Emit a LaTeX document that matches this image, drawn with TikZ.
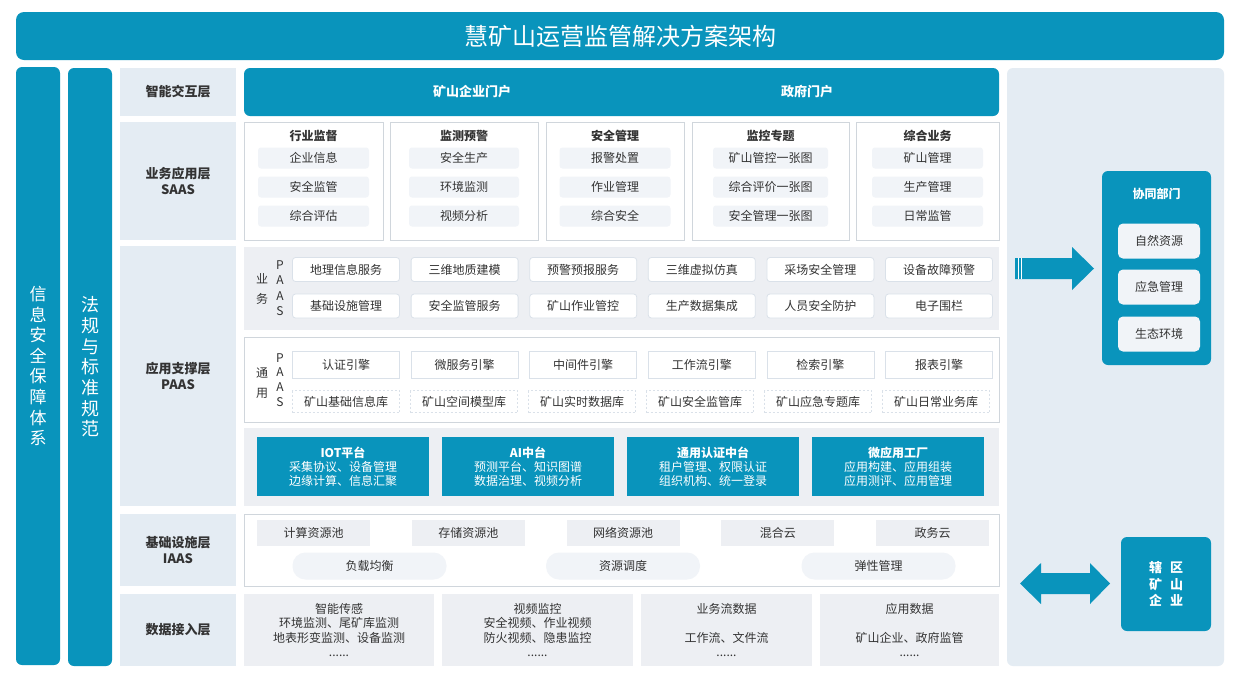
\documentclass[tikz,border=0pt]{standalone}
\usepackage{fontspec}
\setmainfont{Noto Sans CJK SC}
\usetikzlibrary{positioning}

\definecolor{mainblue}{RGB}{9,148,188}
\definecolor{panel}{RGB}{228,236,243}
\definecolor{grayfill}{RGB}{237,239,243}
\definecolor{pillfill}{RGB}{241,244,248}
\definecolor{cardline}{RGB}{208,214,220}
\definecolor{svcline}{RGB}{218,225,233}
\definecolor{txt}{RGB}{51,51,51}

\tikzset{
  sized/.style 2 args={minimum width=#1, minimum height=#2, inner sep=0pt},
  bar/.style={fill=mainblue, text=white, rounded corners=6pt},
  lyr/.style={fill=panel, text=txt, align=center, font=\fontsize{13}{16}\selectfont\bfseries},
  card/.style={fill=white, draw=cardline, line width=0.8pt},
  cardtitle/.style={text=txt, font=\fontsize{12}{14}\selectfont\bfseries},
  pill/.style={fill=pillfill, text=txt, rounded corners=3pt, font=\fontsize{12}{14}\selectfont},
  svc/.style={fill=white, draw=svcline, line width=0.8pt, rounded corners=3pt, text=txt,
    minimum width=107pt, minimum height=24pt, inner sep=0pt, font=\fontsize{12}{14}\selectfont},
  engine/.style={svc, rounded corners=0pt, minimum height=27pt},
  dbase/.style={svc, rounded corners=0pt, dashed, dash pattern=on 2pt off 2pt, minimum height=22pt},
  vlabel/.style={text=txt, align=center, inner sep=0pt, font=\fontsize{12}{#1}\selectfont},
  platbox/.style={fill=mainblue, text=white, align=center, minimum width=172pt, minimum height=59pt,
    inner sep=0pt, font=\fontsize{12}{14}\selectfont},
  pool/.style={fill=grayfill, text=txt, minimum width=113pt, minimum height=26pt, inner sep=0pt,
    font=\fontsize{12}{14}\selectfont},
  oval/.style={fill=pillfill, text=txt, rounded corners=13pt, minimum width=154pt, minimum height=27pt,
    inner sep=0pt, font=\fontsize{12}{14}\selectfont},
  datatext/.style={text=txt, align=center, inner sep=0pt, font=\fontsize{12}{14.3}\selectfont},
  dept/.style={fill=pillfill, text=txt, rounded corners=5pt, minimum width=82pt, minimum height=35pt,
    inner sep=0pt, font=\fontsize{12}{14}\selectfont}
}

\begin{document}
\begin{tikzpicture}[x=1pt, y=-1pt]
  \useasboundingbox[fill=white] (0,0) rectangle (1240,686);

  % title and side columns
  \node[bar, sized={1208pt}{48pt}, rounded corners=8pt, font=\fontsize{24}{28}\selectfont] (title) at (620,36) {慧矿山运营监管解决方案架构};
  \node[bar, sized={44pt}{598pt}, align=center, font=\fontsize{17}{20.6}\selectfont] (security) at (38,366) {信\\息\\安\\全\\保\\障\\体\\系};
  \node[bar, sized={44pt}{598pt}, align=center, font=\fontsize{18}{20.7}\selectfont] (law) at (90,367) {法\\规\\与\\标\\准\\规\\范};

  % layer labels
  \node[lyr, sized={116pt}{48pt}] (l1) at (178,92) {智能交互层};
  \node[lyr, sized={116pt}{118pt}] (l2) at (178,181) {业务应用层\\SAAS};
  \node[lyr, sized={116pt}{260pt}] (l3) at (178,376) {应用支撑层\\PAAS};
  \node[lyr, sized={116pt}{72pt}] (l4) at (178,550) {基础设施层\\IAAS};
  \node[lyr, sized={116pt}{72pt}] (l5) at (178,630) {数据接入层};

  % right panel
  \node[fill=panel, rounded corners=6pt, sized={217pt}{598pt}] (side) at (1115.5,367) {};

  % interaction layer
  \node[bar, sized={755pt}{48pt}] (portal) at (621.5,92) {};
  \node[text=white, font=\fontsize{13}{16}\selectfont\bfseries] (p1) at (472,92) {矿山企业门户};
  \node[text=white, font=\fontsize{13}{16}\selectfont\bfseries] (p2) at (807,92) {政府门户};

  % SAAS
  \foreach \x/\w/\iw/\n/\t/\a/\b/\c in {
      313.5/139/111/sa1/行业监督/企业信息/安全监管/综合评估,
      464/148/110/sa2/监测预警/安全生产/环境监测/视频分析,
      615/138/111/sa3/安全管理/报警处置/作业管理/综合安全,
      770.5/157/115/sa4/监控专题/矿山管控一张图/综合评价一张图/安全管理一张图,
      927.5/143/111/sa5/综合业务/矿山管理/生产管理/日常监管} {
    \node[card, sized={\w pt}{118pt}] (\n) at (\x,181) {};
    \node[cardtitle] (\n-t) at (\x,136) {\t};
    \node[pill, sized={\iw pt}{21pt}] (\n-a) at (\x,158) {\a};
    \node[pill, sized={\iw pt}{21pt}] (\n-b) at (\x,187) {\b};
    \node[pill, sized={\iw pt}{21pt}] (\n-c) at (\x,216) {\c};
  }

  % business PAAS
  \node[fill=grayfill, sized={755pt}{83pt}] (bizbg) at (621.5,288.5) {};
  \node[vlabel=20] (bizlbl) at (262,289) {业\\务};
  \node[vlabel=15.5] (bizpaas) at (280,288) {P\\A\\A\\S};
  \foreach \t [count=\i from 0] in {地理信息服务,三维地质建模,预警预报服务,三维虚拟仿真,采场安全管理,设备故障预警}
    \node[svc] (biz1-\i) at ({346+118.6*\i},269.5) {\t};
  \foreach \t [count=\i from 0] in {基础设施管理,安全监管服务,矿山作业管控,生产数据集成,人员安全防护,电子围栏}
    \node[svc] (biz2-\i) at ({346+118.6*\i},306) {\t};

  % common PAAS
  \node[card, sized={755pt}{85pt}] (combg) at (621.5,379.5) {};
  \node[vlabel=20] (comlbl) at (262,383) {通\\用};
  \node[vlabel=14.7] (compaas) at (280,380) {P\\A\\A\\S};
  \foreach \t [count=\i from 0] in {认证引擎,微服务引擎,中间件引擎,工作流引擎,检索引擎,报表引擎}
    \node[engine] (eng-\i) at ({346+118.6*\i},364.5) {\t};
  \foreach \t [count=\i from 0] in {矿山基础信息库,矿山空间模型库,矿山实时数据库,矿山安全监管库,矿山应急专题库,矿山日常业务库}
    \node[dbase] (db-\i) at ({346+118*\i},401.5) {\t};

  % platforms
  \node[fill=grayfill, sized={755pt}{78pt}] (platbg) at (621.5,467) {};
  \foreach \t/\a/\b [count=\i from 0] in {IOT平台/采集协议、设备管理/边缘计算、信息汇聚,
      AI中台/预测平台、知识图谱/数据治理、视频分析,
      通用认证中台/租户管理、权限认证/组织机构、统一登录,
      微应用工厂/应用构建、应用组装/应用测评、应用管理}
    \node[platbox] (plat-\i) at ({343+185*\i},466.5) {\textbf{\t}\\\a\\\b};

  % IAAS
  \node[card, sized={755pt}{72pt}] (iaasbg) at (621.5,550) {};
  \foreach \t [count=\i from 0] in {计算资源池,存储资源池,网络资源池,混合云,政务云}
    \node[pool] (pool-\i) at ({313.5+154.8*\i},532.5) {\t};
  \node[oval] (ov1) at (369.5,566) {负载均衡};
  \node[oval] (ov2) at (623,566) {资源调度};
  \node[oval] (ov3) at (878.5,566) {弹性管理};

  % data access
  \node[fill=grayfill, sized={190pt}{72pt}] (d1) at (339,630) {};
  \node[fill=grayfill, sized={191pt}{72pt}] (d2) at (537.5,630) {};
  \node[fill=grayfill, sized={171pt}{72pt}] (d3) at (726.5,630) {};
  \node[fill=grayfill, sized={179pt}{72pt}] (d4) at (909.5,630) {};
  \node[datatext] (d1-t) at (d1) {智能传感\\环境监测、尾矿库监测\\地表形变监测、设备监测\\......};
  \node[datatext] (d2-t) at (d2) {视频监控\\安全视频、作业视频\\防火视频、隐患监控\\......};
  \node[datatext] (d3-t) at (d3) {业务流数据\\~\\工作流、文件流\\......};
  \node[datatext] (d4-t) at (d4) {应用数据\\~\\矿山企业、政府监管\\......};

  % cooperating departments
  \node[bar, sized={109pt}{194pt}] (coop) at (1156.5,268) {};
  \node[text=white, font=\fontsize{12}{14}\selectfont\bfseries] (coop-t) at (1156.5,194) {协同部门};
  \node[dept] (dep1) at (1159,241) {自然资源};
  \node[dept] (dep2) at (1159,287) {应急管理};
  \node[dept] (dep3) at (1159,334) {生态环境};
  \fill[mainblue] (1015,258) -- (1072,258) -- (1072,247) -- (1094,268.5) -- (1072,290)
    -- (1072,279) -- (1015,279) -- cycle;
  \draw[white, line width=0.7pt] (1018,258) -- (1018,279);
  \draw[white, line width=0.7pt] (1021,258) -- (1021,279);

  % mining enterprises
  \node[bar, sized={90pt}{94pt}, align=center, font=\fontsize{13}{16.5}\selectfont\bfseries] (mine) at (1166,584) {辖\hspace{8pt}区\\矿\hspace{8pt}山\\企\hspace{8pt}业};
  \fill[mainblue] (1020,583.5) -- (1041,563) -- (1041,573) -- (1090,573) -- (1090,563)
    -- (1110,583.5) -- (1090,604) -- (1090,594) -- (1041,594) -- (1041,604) -- cycle;
\end{tikzpicture}
\end{document}
